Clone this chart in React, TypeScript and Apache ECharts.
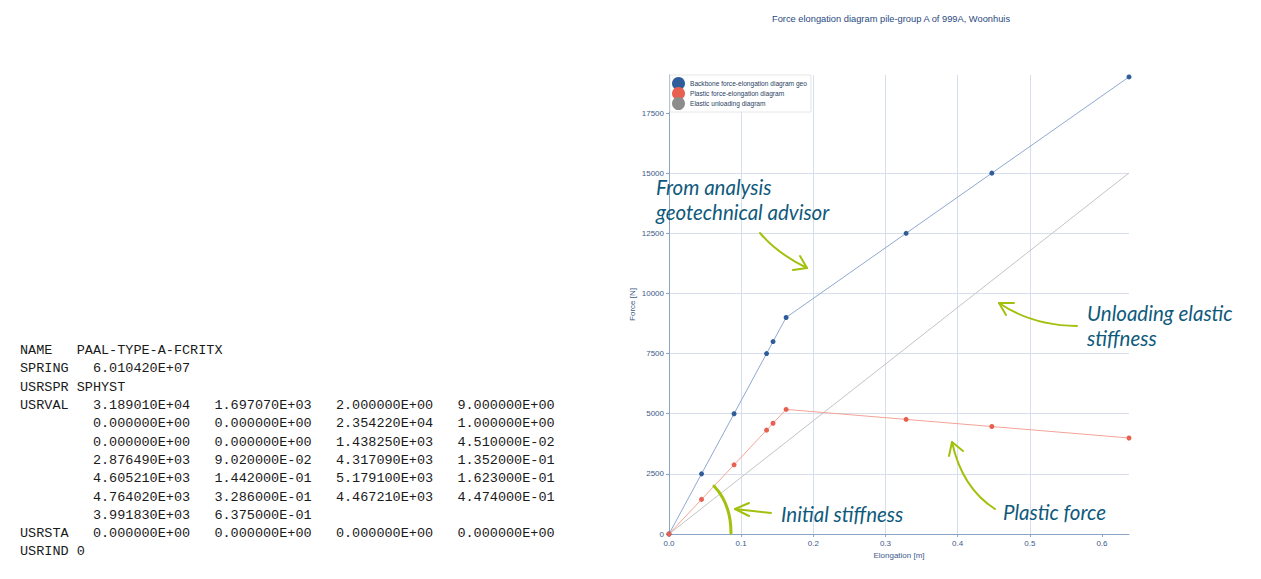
import React, { useEffect, useRef } from "react";
import * as echarts from "echarts";

// ---- chart data ----
const chartTitle = "Force elongation diagram pile-group A of 999A, Woonhuis";
const seriesNames = [
  "Backbone force-elongation diagram geo",
  "Plastic force-elongation diagram",
  "Elastic unloading diagram",
];
const elongation = [0, 0.0451, 0.0902, 0.1352, 0.1442, 0.1623, 0.3286, 0.4474, 0.6375];
const backboneForce = [0, 2500, 5000, 7500, 8000, 9000, 12500, 15000, 19000];
const plasticForce = [0, 1438.25, 2876.49, 4317.09, 4605.21, 5179.1, 4764.02, 4467.21, 3991.83];
const elasticElongation = [0, 0.6375];
const elasticForce = [0, 15008.2];
const xTicks = [0, 0.1, 0.2, 0.3, 0.4, 0.5, 0.6];
const yTicks = [0, 2500, 5000, 7500, 10000, 12500, 15000, 17500];
const xAxisName = "Elongation [m]";
const yAxisName = "Force [N]";

// ---- input file text (left block) ----
const inputLabels = ["NAME", "SPRING", "USRSPR", "USRVAL", "", "", "", "", "", "", "USRSTA", "USRIND"];
const inputValues: string[][] = [
  ["PAAL-TYPE-A-FCRITX"],
  ["6.010420E+07"],
  ["SPHYST"],
  ["3.189010E+04", "1.697070E+03", "2.000000E+00", "9.000000E+00"],
  ["0.000000E+00", "0.000000E+00", "2.354220E+04", "1.000000E+00"],
  ["0.000000E+00", "0.000000E+00", "1.438250E+03", "4.510000E-02"],
  ["2.876490E+03", "9.020000E-02", "4.317090E+03", "1.352000E-01"],
  ["4.605210E+03", "1.442000E-01", "5.179100E+03", "1.623000E-01"],
  ["4.764020E+03", "3.286000E-01", "4.467210E+03", "4.474000E-01"],
  ["3.991830E+03", "6.375000E-01"],
  ["0.000000E+00", "0.000000E+00", "0.000000E+00", "0.000000E+00"],
  ["0"],
];
const annotationTexts = [
  ["From analysis", "geotechnical advisor"],
  ["Unloading elastic", "stiffness"],
  ["Initial stiffness"],
  ["Plastic force"],
];

const GREEN = "#a2c10f";
const NOTE = "#0f5a7c";
const AXIS = "#3d5a8a";

export default function App() {
  const ref = useRef<HTMLDivElement>(null);
  useEffect(() => {
    if (!ref.current) return;
    const chart = echarts.init(ref.current, null, { renderer: "svg" });

    const graphics: any[] = [];
    // left text block
    const charW = 8.1;
    inputLabels.forEach((lab, i) => {
      const y = 350.6 + i * 18.3;
      if (lab) {
        graphics.push({
          type: "text", x: 20, y,
          style: { text: lab, font: "13.5px 'Liberation Mono', monospace", fill: "#1a1a1a", textVerticalAlign: "middle" },
        });
      }
      const startCol = i === 0 || i === 2 || i === 11 ? 7 : 9;
      inputValues[i].forEach((v, j) => {
        graphics.push({
          type: "text", x: 20 + (startCol + j * 15) * charW, y,
          style: { text: v, font: "13.5px 'Liberation Mono', monospace", fill: "#1a1a1a", textVerticalAlign: "middle" },
        });
      });
    });

    // annotation texts
    const notePos = [
      [656, 187],
      [1087, 313],
      [781, 514],
      [1003, 512],
    ];
    annotationTexts.forEach((lines, k) => {
      lines.forEach((t, li) => {
        graphics.push({
          type: "text", x: notePos[k][0], y: notePos[k][1] + li * 25, z: 100,
          style: { text: t, font: "italic 20.5px Lato, 'Open Sans', sans-serif", fill: NOTE, textVerticalAlign: "middle" },
        });
      });
    });

    const stroke = (w: number) => ({ stroke: GREEN, lineWidth: w, fill: null, lineCap: "round", lineJoin: "round" });
    // arrow 1
    graphics.push({ type: "bezierCurve", z: 100, shape: { x1: 760, y1: 233, cpx1: 776.5, cpy1: 253, x2: 807, y2: 268 }, style: stroke(2) });
    graphics.push({ type: "polyline", z: 100, shape: { points: [[793, 270], [807, 268], [800, 256]] }, style: stroke(2) });
    // arrow 2
    graphics.push({ type: "bezierCurve", z: 100, shape: { x1: 1077, y1: 326, cpx1: 1032, cpy1: 325.5, x2: 999, y2: 303 }, style: stroke(2) });
    graphics.push({ type: "polyline", z: 100, shape: { points: [[1014, 303], [999, 303], [1006, 315]] }, style: stroke(2) });
    // arrow 3
    graphics.push({ type: "bezierCurve", z: 100, shape: { x1: 995, y1: 509, cpx1: 962, cpy1: 488, x2: 952, y2: 442 }, style: stroke(2) });
    graphics.push({ type: "polyline", z: 100, shape: { points: [[949, 456], [952, 442], [963, 451]] }, style: stroke(2) });
    // arrow 4
    graphics.push({ type: "line", z: 100, shape: { x1: 771, y1: 513, x2: 735, y2: 509 }, style: stroke(2) });
    graphics.push({ type: "polyline", z: 100, shape: { points: [[749, 503], [735, 509], [749, 516]] }, style: stroke(2) });
    // angle arc
    graphics.push({ type: "bezierCurve", z: 100, shape: { x1: 714, y1: 486, cpx1: 731, cpy1: 504, x2: 731, y2: 533 }, style: stroke(3) });

    const option: any = {
      animation: false,
      textStyle: { fontFamily: "'Liberation Sans', Arial, sans-serif" },
      title: {
        text: chartTitle,
        left: 886,
        top: 9,
        textAlign: "center",
        textStyle: { fontSize: 9.3, fontWeight: "normal", color: "#2a4a80" },
      },
      legend: {
        orient: "vertical",
        left: 670,
        top: 75,
        icon: "circle",
        itemWidth: 13,
        itemHeight: 13,
        itemGap: -3,
        padding: [2, 4, 2, 2],
        backgroundColor: "#ffffff",
        borderColor: "#e6e6e6",
        borderWidth: 1,
        textStyle: { fontSize: 6.6, color: "#2a3f5f" },
        data: seriesNames,
      },
      grid: { left: 669, right: 132, top: 75, bottom: 45, outerBoundsMode: "none" },
      xAxis: {
        type: "value",
        min: 0,
        max: 0.6375,
        interval: 0.1,
        name: xAxisName,
        nameLocation: "middle",
        nameGap: 16,
        nameTextStyle: { fontSize: 8, color: AXIS },
        axisLine: { show: true, lineStyle: { color: "#8ca3c8", width: 1 } },
        axisTick: { show: true, length: 3, customValues: xTicks, lineStyle: { color: "#8ca3c8" } },
        axisLabel: { customValues: xTicks, fontSize: 8, color: AXIS, margin: 5, formatter: (v: number) => v.toFixed(1) },
        splitLine: { show: true, showMaxLine: false, lineStyle: { color: "#d6dfeb", width: 1 } },
      },
      yAxis: {
        type: "value",
        min: 0,
        max: 19080,
        interval: 2500,
        name: yAxisName,
        nameLocation: "middle",
        nameGap: 33,
        nameTextStyle: { fontSize: 8, color: AXIS },
        axisLine: { show: true, lineStyle: { color: "#8ca3c8", width: 1 } },
        axisTick: { show: true, length: 3, customValues: yTicks, lineStyle: { color: "#8ca3c8" } },
        axisLabel: { customValues: yTicks, fontSize: 8, color: AXIS, margin: 5, formatter: (v: number) => String(v) },
        splitLine: { show: true, showMaxLine: false, lineStyle: { color: "#d6dfeb", width: 1 } },
      },
      series: [
        {
          name: seriesNames[0],
          type: "line",
          data: elongation.map((x, i) => [x, backboneForce[i]]),
          symbol: "circle",
          symbolSize: 5,
          itemStyle: { color: "#2f5d9a" },
          lineStyle: { color: "#8fa9cf", width: 1 },
          z: 4,
        },
        {
          name: seriesNames[1],
          type: "line",
          data: elongation.map((x, i) => [x, plasticForce[i]]),
          symbol: "circle",
          symbolSize: 5,
          itemStyle: { color: "#e8604f" },
          lineStyle: { color: "#f4a497", width: 1 },
          z: 4,
        },
        {
          name: seriesNames[2],
          type: "line",
          data: elasticElongation.map((x, i) => [x, elasticForce[i]]),
          showSymbol: false,
          symbol: "circle",
          itemStyle: { color: "#8c8c8c" },
          lineStyle: { color: "#c4c4c4", width: 1 },
          z: 3,
        },
      ],
      graphic: graphics,
    };
    chart.setOption(option);
    return () => chart.dispose();
  }, []);
  return <div ref={ref} style={{ position: "absolute", left: 0, top: 0, width: 1261, height: 579 }} />;
}
